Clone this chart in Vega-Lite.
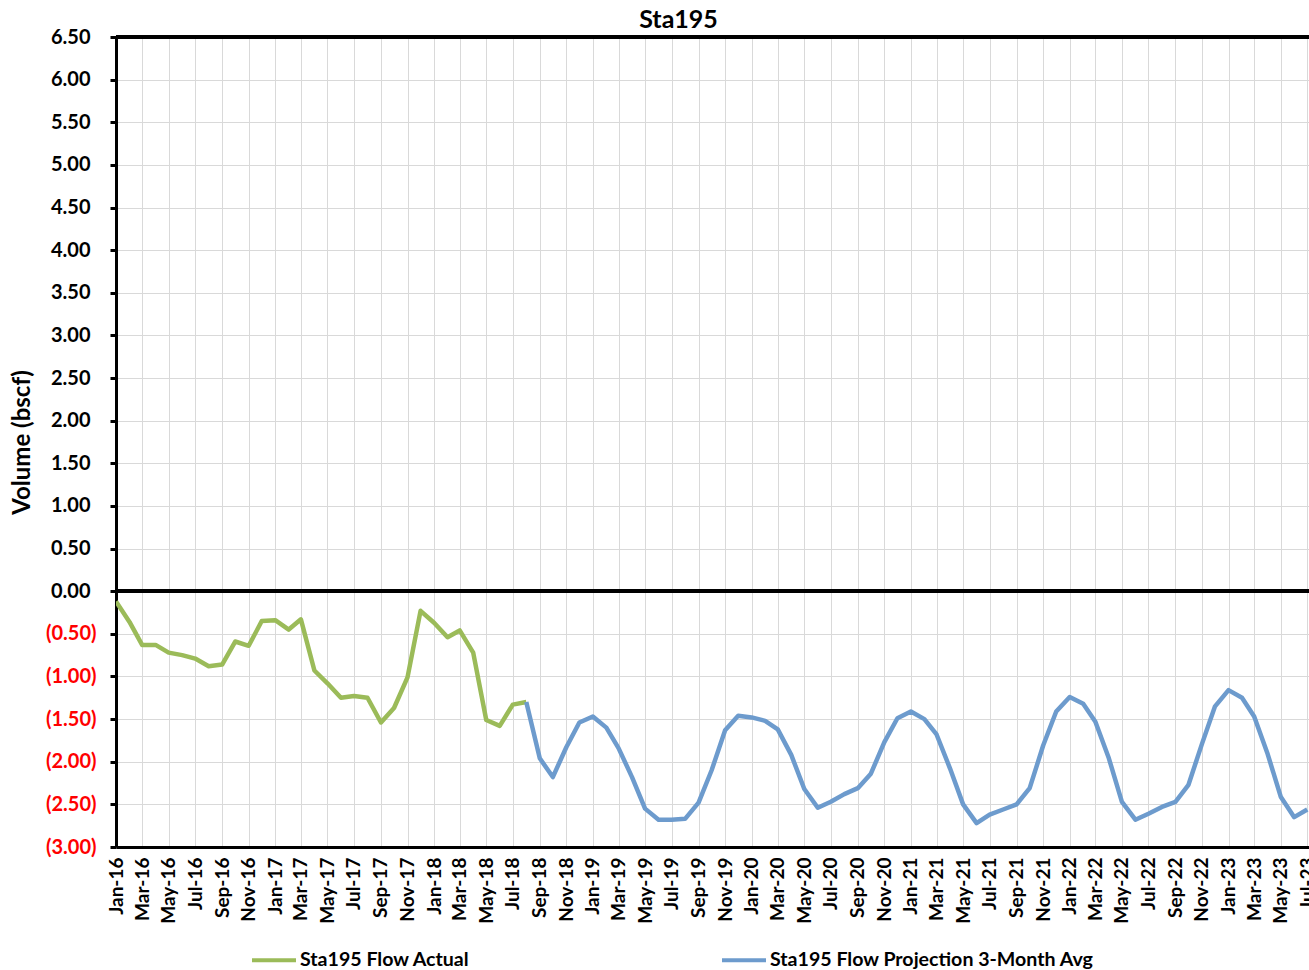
{
  "$schema": "https://vega.github.io/schema/vega-lite/v6.json",
  "autosize": {"type": "none"},
  "padding": {"left": 116, "top": 37, "right": 0, "bottom": 123},
  "width": 1193,
  "height": 810,
  "background": "white",
  "config": {"font": "Lato", "view": {"stroke": null}},
  "title": {"text": "Sta195", "fontSize": 25, "font": "Lato", "fontWeight": "bold", "color": "black", "anchor": "middle", "dx": -34, "offset": -6},
  "data": {"values": [
    {"date": "2016-01-01", "series": "Sta195 Flow Actual", "value": -0.12},
    {"date": "2016-02-01", "series": "Sta195 Flow Actual", "value": -0.36},
    {"date": "2016-03-01", "series": "Sta195 Flow Actual", "value": -0.63},
    {"date": "2016-04-01", "series": "Sta195 Flow Actual", "value": -0.63},
    {"date": "2016-05-01", "series": "Sta195 Flow Actual", "value": -0.72},
    {"date": "2016-06-01", "series": "Sta195 Flow Actual", "value": -0.75},
    {"date": "2016-07-01", "series": "Sta195 Flow Actual", "value": -0.79},
    {"date": "2016-08-01", "series": "Sta195 Flow Actual", "value": -0.88},
    {"date": "2016-09-01", "series": "Sta195 Flow Actual", "value": -0.86},
    {"date": "2016-10-01", "series": "Sta195 Flow Actual", "value": -0.59},
    {"date": "2016-11-01", "series": "Sta195 Flow Actual", "value": -0.64},
    {"date": "2016-12-01", "series": "Sta195 Flow Actual", "value": -0.35},
    {"date": "2017-01-01", "series": "Sta195 Flow Actual", "value": -0.34},
    {"date": "2017-02-01", "series": "Sta195 Flow Actual", "value": -0.45},
    {"date": "2017-03-01", "series": "Sta195 Flow Actual", "value": -0.33},
    {"date": "2017-04-01", "series": "Sta195 Flow Actual", "value": -0.93},
    {"date": "2017-05-01", "series": "Sta195 Flow Actual", "value": -1.08},
    {"date": "2017-06-01", "series": "Sta195 Flow Actual", "value": -1.25},
    {"date": "2017-07-01", "series": "Sta195 Flow Actual", "value": -1.23},
    {"date": "2017-08-01", "series": "Sta195 Flow Actual", "value": -1.25},
    {"date": "2017-09-01", "series": "Sta195 Flow Actual", "value": -1.54},
    {"date": "2017-10-01", "series": "Sta195 Flow Actual", "value": -1.37},
    {"date": "2017-11-01", "series": "Sta195 Flow Actual", "value": -1.01},
    {"date": "2017-12-01", "series": "Sta195 Flow Actual", "value": -0.23},
    {"date": "2018-01-01", "series": "Sta195 Flow Actual", "value": -0.37},
    {"date": "2018-02-01", "series": "Sta195 Flow Actual", "value": -0.54},
    {"date": "2018-03-01", "series": "Sta195 Flow Actual", "value": -0.46},
    {"date": "2018-04-01", "series": "Sta195 Flow Actual", "value": -0.72},
    {"date": "2018-05-01", "series": "Sta195 Flow Actual", "value": -1.51},
    {"date": "2018-06-01", "series": "Sta195 Flow Actual", "value": -1.58},
    {"date": "2018-07-01", "series": "Sta195 Flow Actual", "value": -1.33},
    {"date": "2018-08-01", "series": "Sta195 Flow Actual", "value": -1.30},
    {"date": "2018-08-01", "series": "Sta195 Flow Projection 3-Month Avg", "value": -1.30},
    {"date": "2018-09-01", "series": "Sta195 Flow Projection 3-Month Avg", "value": -1.96},
    {"date": "2018-10-01", "series": "Sta195 Flow Projection 3-Month Avg", "value": -2.18},
    {"date": "2018-11-01", "series": "Sta195 Flow Projection 3-Month Avg", "value": -1.83},
    {"date": "2018-12-01", "series": "Sta195 Flow Projection 3-Month Avg", "value": -1.54},
    {"date": "2019-01-01", "series": "Sta195 Flow Projection 3-Month Avg", "value": -1.47},
    {"date": "2019-02-01", "series": "Sta195 Flow Projection 3-Month Avg", "value": -1.60},
    {"date": "2019-03-01", "series": "Sta195 Flow Projection 3-Month Avg", "value": -1.84},
    {"date": "2019-04-01", "series": "Sta195 Flow Projection 3-Month Avg", "value": -2.18},
    {"date": "2019-05-01", "series": "Sta195 Flow Projection 3-Month Avg", "value": -2.55},
    {"date": "2019-06-01", "series": "Sta195 Flow Projection 3-Month Avg", "value": -2.68},
    {"date": "2019-07-01", "series": "Sta195 Flow Projection 3-Month Avg", "value": -2.68},
    {"date": "2019-08-01", "series": "Sta195 Flow Projection 3-Month Avg", "value": -2.67},
    {"date": "2019-09-01", "series": "Sta195 Flow Projection 3-Month Avg", "value": -2.48},
    {"date": "2019-10-01", "series": "Sta195 Flow Projection 3-Month Avg", "value": -2.10},
    {"date": "2019-11-01", "series": "Sta195 Flow Projection 3-Month Avg", "value": -1.63},
    {"date": "2019-12-01", "series": "Sta195 Flow Projection 3-Month Avg", "value": -1.46},
    {"date": "2020-01-01", "series": "Sta195 Flow Projection 3-Month Avg", "value": -1.48},
    {"date": "2020-02-01", "series": "Sta195 Flow Projection 3-Month Avg", "value": -1.52},
    {"date": "2020-03-01", "series": "Sta195 Flow Projection 3-Month Avg", "value": -1.62},
    {"date": "2020-04-01", "series": "Sta195 Flow Projection 3-Month Avg", "value": -1.92},
    {"date": "2020-05-01", "series": "Sta195 Flow Projection 3-Month Avg", "value": -2.32},
    {"date": "2020-06-01", "series": "Sta195 Flow Projection 3-Month Avg", "value": -2.54},
    {"date": "2020-07-01", "series": "Sta195 Flow Projection 3-Month Avg", "value": -2.47},
    {"date": "2020-08-01", "series": "Sta195 Flow Projection 3-Month Avg", "value": -2.38},
    {"date": "2020-09-01", "series": "Sta195 Flow Projection 3-Month Avg", "value": -2.31},
    {"date": "2020-10-01", "series": "Sta195 Flow Projection 3-Month Avg", "value": -2.14},
    {"date": "2020-11-01", "series": "Sta195 Flow Projection 3-Month Avg", "value": -1.77},
    {"date": "2020-12-01", "series": "Sta195 Flow Projection 3-Month Avg", "value": -1.49},
    {"date": "2021-01-01", "series": "Sta195 Flow Projection 3-Month Avg", "value": -1.41},
    {"date": "2021-02-01", "series": "Sta195 Flow Projection 3-Month Avg", "value": -1.50},
    {"date": "2021-03-01", "series": "Sta195 Flow Projection 3-Month Avg", "value": -1.68},
    {"date": "2021-04-01", "series": "Sta195 Flow Projection 3-Month Avg", "value": -2.08},
    {"date": "2021-05-01", "series": "Sta195 Flow Projection 3-Month Avg", "value": -2.50},
    {"date": "2021-06-01", "series": "Sta195 Flow Projection 3-Month Avg", "value": -2.72},
    {"date": "2021-07-01", "series": "Sta195 Flow Projection 3-Month Avg", "value": -2.62},
    {"date": "2021-08-01", "series": "Sta195 Flow Projection 3-Month Avg", "value": -2.56},
    {"date": "2021-09-01", "series": "Sta195 Flow Projection 3-Month Avg", "value": -2.50},
    {"date": "2021-10-01", "series": "Sta195 Flow Projection 3-Month Avg", "value": -2.31},
    {"date": "2021-11-01", "series": "Sta195 Flow Projection 3-Month Avg", "value": -1.81},
    {"date": "2021-12-01", "series": "Sta195 Flow Projection 3-Month Avg", "value": -1.41},
    {"date": "2022-01-01", "series": "Sta195 Flow Projection 3-Month Avg", "value": -1.24},
    {"date": "2022-02-01", "series": "Sta195 Flow Projection 3-Month Avg", "value": -1.32},
    {"date": "2022-03-01", "series": "Sta195 Flow Projection 3-Month Avg", "value": -1.53},
    {"date": "2022-04-01", "series": "Sta195 Flow Projection 3-Month Avg", "value": -1.96},
    {"date": "2022-05-01", "series": "Sta195 Flow Projection 3-Month Avg", "value": -2.47},
    {"date": "2022-06-01", "series": "Sta195 Flow Projection 3-Month Avg", "value": -2.68},
    {"date": "2022-07-01", "series": "Sta195 Flow Projection 3-Month Avg", "value": -2.61},
    {"date": "2022-08-01", "series": "Sta195 Flow Projection 3-Month Avg", "value": -2.53},
    {"date": "2022-09-01", "series": "Sta195 Flow Projection 3-Month Avg", "value": -2.47},
    {"date": "2022-10-01", "series": "Sta195 Flow Projection 3-Month Avg", "value": -2.27},
    {"date": "2022-11-01", "series": "Sta195 Flow Projection 3-Month Avg", "value": -1.79},
    {"date": "2022-12-01", "series": "Sta195 Flow Projection 3-Month Avg", "value": -1.35},
    {"date": "2023-01-01", "series": "Sta195 Flow Projection 3-Month Avg", "value": -1.16},
    {"date": "2023-02-01", "series": "Sta195 Flow Projection 3-Month Avg", "value": -1.25},
    {"date": "2023-03-01", "series": "Sta195 Flow Projection 3-Month Avg", "value": -1.47},
    {"date": "2023-04-01", "series": "Sta195 Flow Projection 3-Month Avg", "value": -1.91},
    {"date": "2023-05-01", "series": "Sta195 Flow Projection 3-Month Avg", "value": -2.41},
    {"date": "2023-06-01", "series": "Sta195 Flow Projection 3-Month Avg", "value": -2.65},
    {"date": "2023-07-01", "series": "Sta195 Flow Projection 3-Month Avg", "value": -2.56}
  ]},
  "encoding": {
    "x": {
      "field": "date", "type": "temporal",
      "scale": {"type": "utc", "domain": [{"year": 2016, "month": 1, "date": 1, "utc": true}, {"year": 2023, "month": 7, "date": 5, "utc": true}]},
      "axis": {
        "title": null, "format": "%b-%y", "tickCount": {"interval": "month", "step": 2},
        "labelAngle": 270, "labelAlign": "right", "labelBaseline": "middle",
        "labelFont": "Lato", "labelFontWeight": "bold", "labelFontSize": 19, "labelColor": "black",
        "labelPadding": 10, "labelOverlap": false, "labelFlush": false,
        "ticks": false, "domain": true, "domainColor": "black", "domainWidth": 3,
        "grid": true, "gridColor": "#D9D9D9", "gridWidth": 1
      }
    },
    "y": {
      "field": "value", "type": "quantitative",
      "scale": {"domain": [-3, 6.5], "nice": false, "zero": false},
      "axis": {
        "title": "Volume (bscf)", "titleFont": "Lato", "titleFontSize": 24, "titleFontWeight": "bold", "titleColor": "black",
        "titleAngle": 270, "titleX": -94, "titleY": 405, "titleAlign": "center", "titleBaseline": "middle",
        "values": [-3, -2.5, -2, -1.5, -1, -0.5, 0, 0.5, 1, 1.5, 2, 2.5, 3, 3.5, 4, 4.5, 5, 5.5, 6, 6.5],
        "labelExpr": "datum.value < 0 ? '(' + format(-datum.value, '.2f') + ')' : format(datum.value, '.2f')",
        "labelColor": {"condition": {"test": "datum.value < 0", "value": "#FF0000"}, "value": "black"},
        "labelPadding": {"condition": {"test": "datum.value < 0", "value": 14}, "value": 20},
        "labelFont": "Lato", "labelFontWeight": "bold", "labelFontSize": 20,
        "labelOverlap": false, "labelFlush": false,
        "ticks": true, "tickSize": 6, "tickColor": "black", "tickWidth": 3,
        "domain": true, "domainColor": "black", "domainWidth": 3,
        "grid": true, "gridColor": "#D9D9D9", "gridWidth": 1
      }
    }
  },
  "layer": [
    {
      "mark": {"type": "line", "strokeWidth": 4.5, "clip": true, "strokeJoin": "round"},
      "encoding": {
        "color": {
          "field": "series", "type": "nominal",
          "scale": {"domain": ["Sta195 Flow Actual", "Sta195 Flow Projection 3-Month Avg"], "range": ["#9BBB59", "#6D9BCD"]},
          "legend": {
            "title": null, "orient": "none", "legendX": 134, "legendY": 899, "direction": "horizontal",
            "symbolType": "stroke", "symbolStrokeWidth": 4, "symbolSize": 1936,
            "labelFont": "Lato", "labelFontWeight": "bold", "labelFontSize": 19.6, "labelColor": "black",
            "labelLimit": 500, "labelOffset": 2, "columnPadding": 244, "padding": 0
          }
        }
      }
    },
    {
      "mark": {"type": "rule", "color": "black", "strokeWidth": 3},
      "encoding": {"y": {"datum": 0}, "x": null}
    },
    {
      "mark": {"type": "rule", "color": "black", "strokeWidth": 3},
      "encoding": {"y": {"datum": 6.5}, "x": null}
    }
  ]
}
